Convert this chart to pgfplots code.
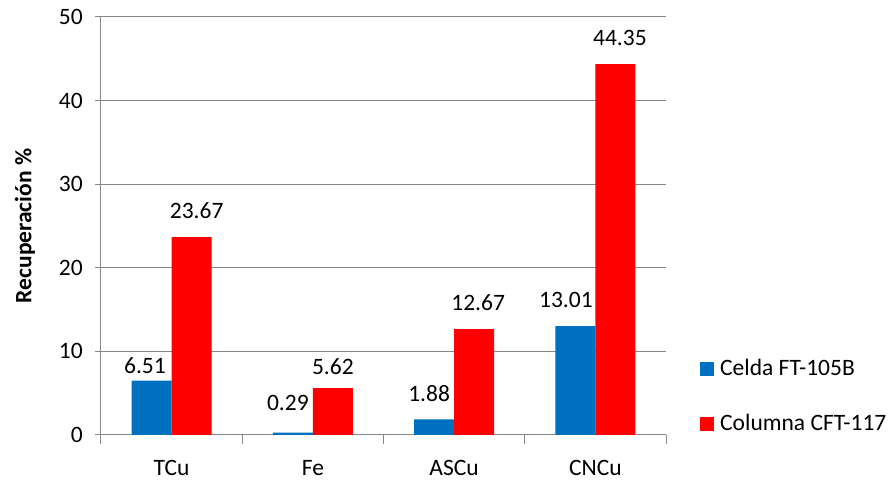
\documentclass[border=0pt]{standalone}
\usepackage{fontspec}
\setmainfont{Carlito}
\usepackage{pgfplots}
\pgfplotsset{compat=1.18}
\usepackage{pgfplotstable}

\definecolor{celda}{HTML}{0070C0}
\definecolor{columna}{HTML}{FF0000}
\definecolor{axisgray}{HTML}{868686}

% x = category index, y = recovery (%), dx/gap = label placement
\pgfplotstableread{
x y dx gap
0 6.51 -6.7 6.7
1 0.29 -5 22
2 1.88 -5 17.7
3 13.01 -9.5 18
}\celdatab

\pgfplotstableread{
x y dx gap
0 23.67 5 18
1 5.62 0 13.5
2 12.67 4 18
3 44.35 4.5 18
}\columnatab

\begin{document}
\fontsize{23.5}{28}\selectfont
\begin{tikzpicture}
\useasboundingbox (-101pt,-46pt) rectangle (792pt,435pt);
\begin{axis}[
  scale only axis,
  width=565pt, height=418pt,
  xmin=-0.5, xmax=3.5, ymin=0, ymax=50,
  ybar=0pt, bar width=40pt,
  axis x line=bottom, axis y line=left,
  axis line style={-, draw=axisgray, line width=1pt},
  tick style={axisgray, line width=1pt},
  tick align=outside,
  major tick length=6pt, minor tick length=9pt,
  xtick={0,1,2,3}, xticklabels={TCu,Fe,ASCu,CNCu},
  minor xtick={-0.5,0.5,1.5,2.5,3.5},
  major x tick style={draw=none},
  ytick={0,10,20,30,40,50},
  ymajorgrids, grid style={axisgray, line width=1pt},
  /pgf/number format/assume math mode=true,
  yticklabel style={inner sep=0pt, xshift=-12pt},
  xticklabel style={inner sep=0pt, yshift=-19pt},
  ylabel={\bfseries Recuperación \%},
  ylabel style={at={(axis description cs:-0.1345,0.5)}, anchor=center},
  legend style={draw=none, fill=none, at={(axis description cs:1.0602,0.0921)},
    anchor=west, inner sep=0pt, row sep=35.5pt, column sep=6pt,
    nodes={inner sep=0pt}},
  legend cell align=left,
  visualization depends on={\thisrow{dx}\as\dx},
  visualization depends on={\thisrow{gap}\as\gap},
  nodes near coords={\pgfmathprintnumber[fixed,fixed zerofill,precision=2,assume math mode=true]{\pgfplotspointmeta}},
  every node near coord/.append style={anchor=south, inner sep=0pt, text=black, xshift=\dx pt, yshift=\gap pt},
]
\addplot[fill=celda, draw=none,
  legend image code/.code={\fill[celda] (0pt,-7pt) rectangle (14pt,7pt);}]
  table[x=x, y=y] {\celdatab};
\addplot[fill=columna, draw=none,
  legend image code/.code={\fill[columna] (0pt,-7pt) rectangle (14pt,7pt);}]
  table[x=x, y=y] {\columnatab};
\legend{Celda FT-105B, Columna CFT-117}
\end{axis}
\end{tikzpicture}
\end{document}
